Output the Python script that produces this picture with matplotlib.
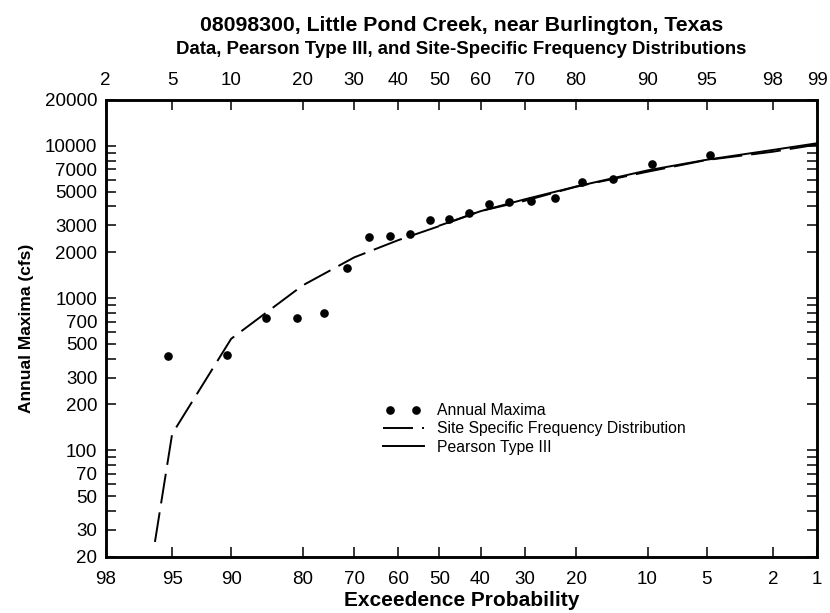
import numpy as np
import matplotlib
matplotlib.use("Agg")
import matplotlib.pyplot as plt
from matplotlib.legend_handler import HandlerLine2D
from statistics import NormalDist

plt.rcParams['font.family'] = ['Liberation Sans', 'DejaVu Sans']
plt.rcParams['lines.scale_dashes'] = False

# ---- data ----
obs_exceedance = [4.76, 9.52, 14.29, 19.05, 23.81, 28.57, 33.33, 38.10, 42.86, 47.62,
                  52.38, 57.14, 61.90, 66.67, 71.43, 76.19, 80.95, 85.71, 90.48, 95.24]
obs_flow = [8650, 7550, 6030, 5810, 4560, 4320, 4280, 4170, 3620, 3290,
            3260, 2620, 2560, 2530, 1570, 800, 745, 740, 420, 415]

site_exceedance = [96, 95, 90, 80, 70, 60, 50, 40, 30, 20, 10, 5, 2, 1]
site_flow = [25, 128, 540, 1210, 1850, 2400, 2970, 3730, 4350, 5390, 6760, 8070, 9150, 10200]

p3_exceedance = [50, 40, 30, 20, 10, 5, 2, 1]
p3_flow = [2990, 3720, 4450, 5400, 6900, 8100, 9400, 10400]

bottom_ticks = [98, 95, 90, 80, 70, 60, 50, 40, 30, 20, 10, 5, 2, 1]
top_ticks = [2, 5, 10, 20, 30, 40, 50, 60, 70, 80, 90, 95, 98, 99]
y_ticks = [20, 30, 40, 50, 60, 70, 80, 90, 100, 200, 300, 400, 500, 600, 700, 800, 900,
           1000, 2000, 3000, 4000, 5000, 6000, 7000, 8000, 9000, 10000, 20000]
y_labeled = [20, 30, 50, 70, 100, 200, 300, 500, 700, 1000, 2000, 3000, 5000, 7000, 10000, 20000]

# ---- normal-probability scale ----
_nd = NormalDist()
_vinv = np.vectorize(_nd.inv_cdf, otypes=[float])
_vcdf = np.vectorize(_nd.cdf, otypes=[float])
def _fwd(p):
    p = np.clip(np.asarray(p, dtype=float) / 100.0, 1e-9, 1 - 1e-9)
    return _vinv(p)
def _inv(z):
    z = np.asarray(z, dtype=float)
    return _vcdf(z) * 100.0

W, H = 830, 613
fig = plt.figure(figsize=(W/100, H/100), dpi=100)
ax = fig.add_axes([105.7/W, 1-556.7/H, (817.3-105.7)/W, (556.7-100)/H])

ax.set_xscale('function', functions=(_fwd, _inv))
ax.set_yscale('log')
ax.set_xlim(98, 1)
ax.set_ylim(20, 20000)

lw_curve = 1.4
obs_line, = ax.plot(obs_exceedance, obs_flow, linestyle='none', marker='o', markersize=5.2,
                    color='black', label='Annual Maxima')
ax.plot(site_exceedance, site_flow, color='black', lw=lw_curve, dashes=(21.6, 6.5),
        label='Site Specific Frequency Distribution')
ax.plot(p3_exceedance, p3_flow, color='black', lw=lw_curve, label='Pearson Type III')

tick_fs = 13.5
ax.set_xticks(bottom_ticks)
ax.set_xticklabels([str(t) for t in bottom_ticks])
ax.xaxis.set_minor_locator(matplotlib.ticker.NullLocator())
ax.set_yticks(y_ticks)
ax.set_yticklabels([str(t) if t in y_labeled else '' for t in y_ticks])
ax.yaxis.set_minor_locator(matplotlib.ticker.NullLocator())
ax.tick_params(axis='both', which='major', direction='in', length=7.2, width=1.1,
               labelsize=tick_fs)
ax.tick_params(axis='y', right=True, pad=6)
ax.tick_params(axis='x', pad=10)

for s in ax.spines.values():
    s.set_linewidth(1.8)

ax2 = ax.twiny()
ax2.set_xscale('function', functions=(_fwd, _inv))
ax2.set_xlim(2, 99)
ax2.set_xticks(top_ticks)
ax2.set_xticklabels([str(t) for t in top_ticks])
ax2.xaxis.set_minor_locator(matplotlib.ticker.NullLocator())
ax2.tick_params(axis='x', direction='in', length=7.2, width=1.1, labelsize=tick_fs, pad=8)
for s in ax2.spines.values():
    s.set_linewidth(1.8)

ax.set_xlabel('Exceedence Probability', fontsize=15, fontweight='bold', labelpad=2.5)
ax.set_ylabel('Annual Maxima (cfs)', fontsize=12.5, fontweight='bold', labelpad=8)

cx = (105.7 + 817.3) / 2 / W
fig.text(cx, 1-30.7/H, '08098300, Little Pond Creek, near Burlington, Texas',
         ha='center', va='baseline', fontsize=15.3, fontweight='bold')
fig.text(cx, 1-54/H, 'Data, Pearson Type III, and Site-Specific Frequency Distributions',
         ha='center', va='baseline', fontsize=13.4, fontweight='bold')

leg = ax.legend(loc='upper left', bbox_to_anchor=(378/W, 1-403/H),
                bbox_transform=fig.transFigure, frameon=False, numpoints=2,
                fontsize=11.3, handlelength=3.2, handletextpad=0.55, labelspacing=0.22,
                borderpad=0, borderaxespad=0,
                handler_map={obs_line: HandlerLine2D(marker_pad=0.75)})

fig.savefig('out.png', dpi=100)
